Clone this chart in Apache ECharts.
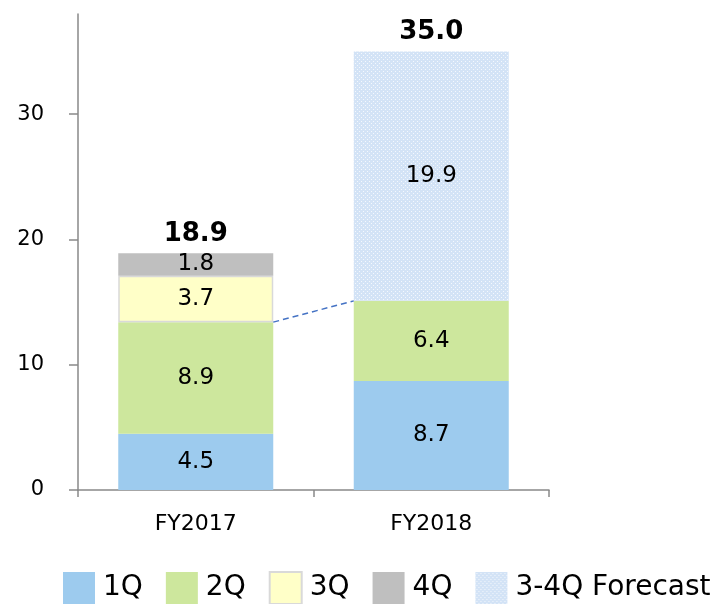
<!DOCTYPE html>
<html lang="en">
<head>
  <meta charset="UTF-8">
  <title>FY chart</title>
  <script src="https://cdn.jsdelivr.net/npm/echarts@6/dist/echarts.min.js"></script>
  <style>
    html, body { margin: 0; padding: 0; background: #fff; }
    #main { width: 724px; height: 604px; }
  </style>
</head>
<body>
  <div id="main"></div>
  <script type="text/javascript">
    // data
    var categories = ['FY2017', 'FY2018'];
    var q1 = [4.5, 8.7];
    var q2 = [8.9, 6.4];
    var q3 = [3.7, '-'];
    var q4 = [1.8, '-'];
    var forecast = ['-', 19.9];
    var totals = [18.9, 35.0];

    var font = 'DejaVu Sans';
    var barW = 155, catW = 235.5;

    // dotted fill for the forecast bar
    var pat = document.createElement('canvas');
    pat.width = 4; pat.height = 4;
    var pc = pat.getContext('2d');
    pc.fillStyle = '#d3e3f6';
    pc.fillRect(0, 0, 4, 4);
    pc.fillStyle = '#f4f8fd';
    pc.fillRect(1, 1, 1, 1);
    pc.fillRect(3, 3, 1, 1);

    // dashed connector: top of 2Q FY2017 -> top of 2Q FY2018, bar edge to bar edge
    var half = barW / catW / 2;
    var link = [
      [0.5 + half, q1[0] + q2[0]],
      [1.5 - half, q1[1] + q2[1]]
    ];

    var inLabel = { show: true, position: 'inside', color: '#000', fontSize: 23, fontFamily: font };

    var myChart = echarts.init(document.getElementById('main'));
    var option = {
      animation: false,
      grid: { left: 78, right: 175, top: 14, bottom: 114 },
      legend: {
        top: 566,
        left: 58,
        itemWidth: 32,
        itemHeight: 32,
        itemGap: 23,
        icon: 'rect',
        textStyle: { fontSize: 28, fontFamily: font, color: '#000', padding: [0, 0, 0, 3] },
        data: ['1Q', '2Q', '3Q', '4Q', '3-4Q Forecast']
      },
      xAxis: [{
        type: 'category',
        data: categories,
        axisLine: { lineStyle: { color: '#898989', width: 1.5 } },
        axisTick: { show: true, length: 7, lineStyle: { color: '#898989', width: 1.5 } },
        axisLabel: { fontSize: 22, fontFamily: font, color: '#000', margin: 23 }
      }, {
        type: 'value', min: 0, max: 2, show: false
      }],
      yAxis: {
        type: 'value',
        min: 0, max: 38, interval: 10,
        splitLine: { show: false },
        axisLine: { show: true, lineStyle: { color: '#898989', width: 1.5 } },
        axisTick: { show: true, length: 9, lineStyle: { color: '#898989', width: 1.5 } },
        axisLabel: { fontSize: 21, fontFamily: font, color: '#000', margin: 34, showMaxLabel: false }
      },
      series: [
        { name: '1Q', type: 'bar', stack: 's', barWidth: barW, data: q1,
          itemStyle: { color: '#9dcbee' }, label: inLabel },
        { name: '2Q', type: 'bar', stack: 's', data: q2,
          itemStyle: { color: '#cde79d' }, label: inLabel },
        { name: '3Q', type: 'bar', stack: 's', data: q3,
          itemStyle: { color: '#ffffc8', borderColor: '#d9d9d9', borderWidth: 1.5 }, label: inLabel },
        { name: '4Q', type: 'bar', stack: 's', data: q4,
          itemStyle: { color: '#bfbfbf' }, label: inLabel },
        { name: '3-4Q Forecast', type: 'bar', stack: 's', data: forecast,
          itemStyle: { color: { image: pat, repeat: 'repeat' } }, label: inLabel },
        { name: 'total', type: 'scatter', data: totals, symbol: 'circle', symbolSize: 1,
          itemStyle: { color: 'transparent', opacity: 1 }, silent: true,
          label: { show: true, position: 'top', distance: 6, color: '#000',
                   fontSize: 26, fontWeight: 'bold', fontFamily: font,
                   formatter: function (p) { return p.value.toFixed(1); } } },
        { name: 'link', type: 'line', xAxisIndex: 1, data: link, symbol: 'none',
          lineStyle: { color: '#4472c4', type: [6, 4], width: 1.5 } }
      ]
    };
    option && myChart.setOption(option);
  </script>
</body>
</html>
